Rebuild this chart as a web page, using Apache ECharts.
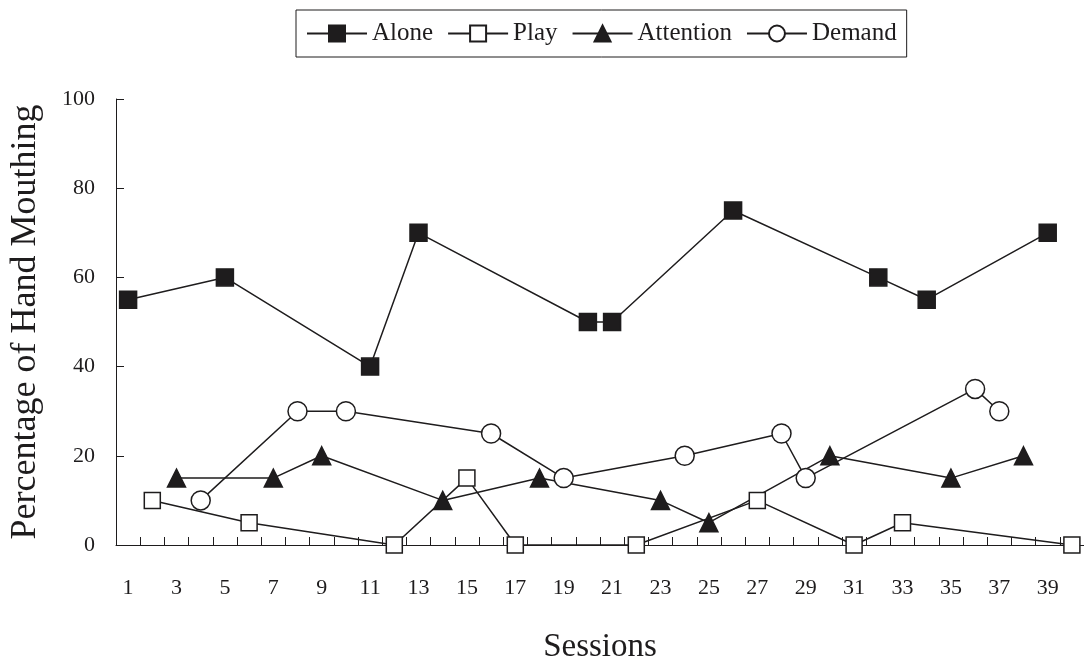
<!DOCTYPE html>
<html>
<head>
<meta charset="utf-8">
<script src="https://cdn.jsdelivr.net/npm/echarts@6/dist/echarts.min.js"></script>
<style>html,body{margin:0;padding:0;background:#fff}#c{width:1084px;height:662px}</style>
</head>
<body>
<div id="c"></div>
<script>
// Categories (sessions 1..40)
const sessions = ['1','2','3','4','5','6','7','8','9','10','11','12','13','14','15','16','17','18','19','20',
                  '21','22','23','24','25','26','27','28','29','30','31','32','33','34','35','36','37','38','39','40'];
// Each condition: session numbers and percentage values
const aloneSessions = [1, 5, 11, 13, 20, 21, 26, 32, 34, 39];
const aloneValues   = [55, 60, 40, 70, 50, 50, 75, 60, 55, 70];
const playSessions  = [2, 6, 12, 15, 17, 22, 27, 31, 33, 40];
const playValues    = [10, 5, 0, 15, 0, 0, 10, 0, 5, 0];
const attentionSessions = [3, 7, 9, 14, 18, 23, 25, 30, 35, 38];
const attentionValues   = [15, 15, 20, 10, 15, 10, 5, 20, 15, 20];
const demandSessions = [4, 8, 10, 16, 19, 24, 28, 29, 36, 37];
const demandValues   = [10, 30, 30, 25, 15, 20, 25, 15, 35, 30];
const yTicks = [0, 20, 40, 60, 80, 100];

const pairs = (s, v) => s.map((x, i) => [sessions.indexOf(String(x)), v[i]]);
const FONT = '"Liberation Serif", "DejaVu Serif", serif';
const INK = '#1e1c1d';

const mk = (name, s, v, symbol, size, fill) => ({
  name, type: 'line', data: pairs(s, v), symbol, symbolSize: size,
  showAllSymbol: true,
  lineStyle: { color: INK, width: 1.5 },
  itemStyle: { color: fill, borderColor: INK, borderWidth: 1.5 },
  emphasis: { disabled: true }
});

const chart = echarts.init(document.getElementById('c'), null, { renderer: 'canvas' });
chart.setOption({
  animation: false,
  backgroundColor: '#fff',
  legend: {
    top: 10, left: 296,
    padding: [11, 10],
    itemWidth: 60, itemHeight: 20, itemGap: 14,
    borderColor: INK, borderWidth: 1,
    textStyle: { fontFamily: FONT, fontSize: 25, color: INK },
    data: ['Alone', 'Play', 'Attention', 'Demand']
  },
  grid: { left: 116, right: 0, top: 99, bottom: 117, containLabel: false, outerBoundsMode: 'none' },
  xAxis: {
    type: 'category', data: sessions, boundaryGap: true,
    name: 'Sessions', nameLocation: 'middle', nameGap: 86,
    nameTextStyle: { fontFamily: FONT, fontSize: 33, color: INK },
    axisLine: { lineStyle: { color: INK, width: 1 } },
    axisTick: { show: true, inside: true, length: 8, interval: 0, lineStyle: { color: INK } },
    axisLabel: { interval: 1, margin: 32, fontFamily: FONT, fontSize: 22, color: INK },
    splitLine: { show: false }
  },
  yAxis: {
    type: 'value', min: 0, max: 100, interval: 20,
    name: 'Percentage of Hand Mouthing', nameLocation: 'middle', nameGap: 72,
    nameTextStyle: { fontFamily: FONT, fontSize: 36, color: INK },
    axisLine: { show: true, lineStyle: { color: INK, width: 1 } },
    axisTick: { show: true, inside: true, length: 8, lineStyle: { color: INK } },
    axisLabel: { margin: 21, fontFamily: FONT, fontSize: 22, color: INK,
      formatter: v => (yTicks.indexOf(v) >= 0 ? String(v) : '') },
    splitLine: { show: false }
  },
  series: [
    mk('Alone', aloneSessions, aloneValues, 'rect', 17, INK),
    mk('Play', playSessions, playValues, 'rect', 16, '#fff'),
    mk('Attention', attentionSessions, attentionValues, 'triangle', 18, INK),
    mk('Demand', demandSessions, demandValues, 'circle', 19, '#fff')
  ]
});
</script>
</body>
</html>
